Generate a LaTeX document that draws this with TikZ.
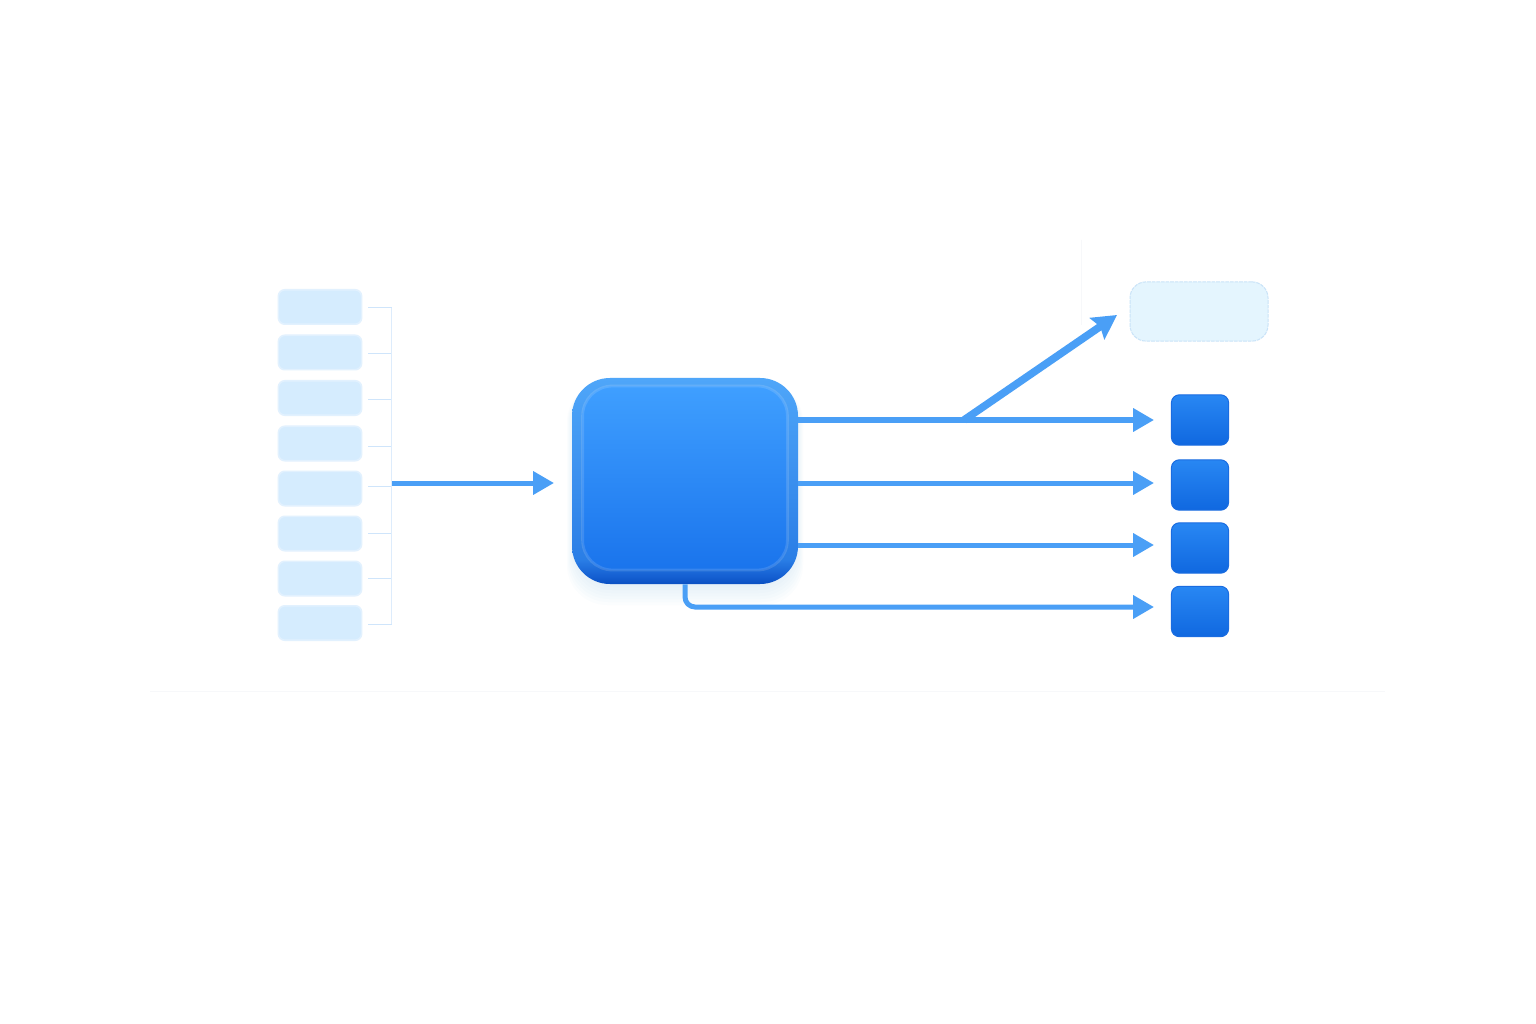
\documentclass[tikz,border=0pt]{standalone}
\usepackage{tikz}
\usetikzlibrary{positioning, arrows.meta}

\definecolor{flow}{HTML}{4A9FF6}
\definecolor{inputfill}{HTML}{D5ECFE}
\definecolor{inputedge}{HTML}{E2F1FE}
\definecolor{tickline}{HTML}{CFE5FB}
\definecolor{trunkline}{HTML}{DDECFC}
\definecolor{hairline}{HTML}{F7F8FA}
\definecolor{cloudfill}{HTML}{E4F5FE}
\definecolor{cloudedge}{HTML}{C9E3F8}
\definecolor{outtop}{HTML}{2887F3}
\definecolor{outbottom}{HTML}{1068E0}
\definecolor{outedge}{HTML}{1A6CE0}
\definecolor{corerim}{HTML}{4FA6F9}
\definecolor{coreside}{HTML}{2A7EE6}
\definecolor{corelow}{HTML}{1560D2}
\definecolor{corebase}{HTML}{0B50C2}
\definecolor{facetop}{HTML}{3F9FFF}
\definecolor{facebottom}{HTML}{1A74EC}
\definecolor{haze}{HTML}{5AA0F5}

\pgfdeclareverticalshading{coreshade}{100bp}{color(0bp)=(corebase); color(25bp)=(corebase);
	color(27bp)=(corelow); color(31bp)=(coreside); color(75bp)=(corerim); color(100bp)=(corerim)}

\tikzset{
	inputbox/.style={draw=inputedge, line width=.4mm, fill=inputfill, rounded corners=1.6mm,
		minimum width=20.8mm, minimum height=8.6mm, inner sep=0pt},
	outbox/.style={draw=outedge, line width=.25mm, rounded corners=2mm,
		top color=outtop, bottom color=outbottom,
		minimum width=14.3mm, minimum height=12.6mm, inner sep=0pt},
	flowline/.style={-{Triangle[length=5.2mm, width=5.6mm]}, draw=flow, line width=1.25mm},
	branchline/.style={-{Stealth[length=6mm, width=6.4mm, inset=.9mm]}, draw=flow, line width=1.9mm},
	tick/.style={draw=tickline, line width=.25mm}
}

\begin{document}
\begin{tikzpicture}[x=.25mm, y=-.25mm]
\useasboundingbox[fill=white] (0,0) rectangle (1536,1024);

% faint rules
\coordinate (ruleA) at (150,691);
\coordinate (ruleB) at (1385,691);
\coordinate (ruleC) at (1081,240);
\coordinate (ruleD) at (1081,325);
\draw[hairline, line width=.25mm] (ruleA) -- (ruleB);
\draw[hairline, line width=.25mm] (ruleC) -- (ruleD);

% inputs
\foreach \i/\y/\ty in {1/307/308, 2/352.5/354, 3/398/400, 4/443.5/446,
		5/488.5/486, 6/533.5/533, 7/578.5/578, 8/623/624}{
	\node[inputbox] (in\i) at (320,\y) {};
	\coordinate (tick\i) at (391.5,\ty);
	\draw[tick, shorten >=1.5mm] (tick\i) -- (in\i.east |- tick\i);
}
\draw[tick, draw=trunkline, line width=.4mm] (tick1) -- (tick8);

% soft shadow of the core
\foreach \g in {1,...,7}{
	\fill[haze, opacity=.02, rounded corners=10mm]
		(574-\g,382) rectangle (796+\g,584+\g*3);
}

% core
\node[rounded corners=9.5mm, shading=coreshade,
	minimum width=56.5mm, minimum height=51.5mm, inner sep=0pt] (core) at (685,481) {};
\node[draw=white, draw opacity=.13, line width=.7mm, rounded corners=7.5mm, top color=facetop, bottom color=facebottom,
	minimum width=51.2mm, minimum height=46mm, inner sep=0pt] (face) at (685,478) {};

% targets
\coordinate (tipA) at (1154,420);
\coordinate (tipB) at (1154,483);
\coordinate (tipC) at (1154,545);
\coordinate (tipD) at (1154,607);
\node[outbox] (outA) at (1200,420) {};
\node[outbox] (outB) at (1200,485) {};
\node[outbox] (outC) at (1200,548) {};
\node[outbox] (outD) at (1200,611.5) {};
\node[draw=cloudedge, dash pattern=on .9mm off .25mm, line width=.25mm, fill=cloudfill, rounded corners=4mm,
	minimum width=34.5mm, minimum height=14.8mm, inner sep=0pt] (cloud) at (1199,311.5) {};

% flows
\coordinate (feed) at (392,483);
\coordinate (intake) at (554,483);
\coordinate (branch) at (964,420);
\coordinate (tipE) at (1117,315);
\draw[branchline] (branch) -- (tipE);
\draw[flowline] (feed) -- (intake);
\draw[flowline] (core.east |- tipA) -- (tipA);
\draw[flowline] (core.east |- tipB) -- (tipB);
\draw[flowline] (core.east |- tipC) -- (tipC);
\draw[flowline, rounded corners=2.5mm] (core.south) |- (tipD);
\end{tikzpicture}
\end{document}
